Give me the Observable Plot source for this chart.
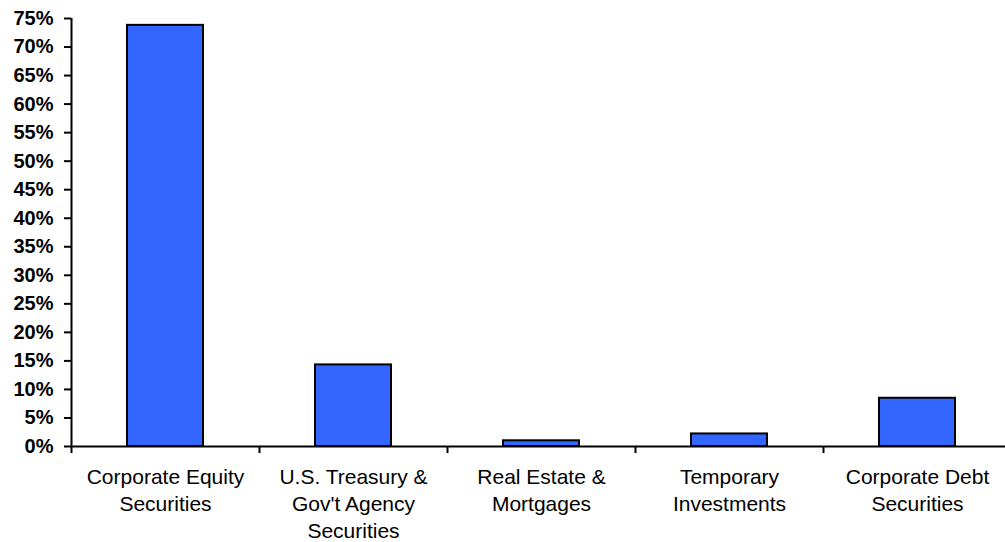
<!DOCTYPE html>
<html>
<head>
<meta charset="utf-8">
<script src="https://cdn.jsdelivr.net/npm/d3@7"></script>
<script src="https://cdn.jsdelivr.net/npm/@observablehq/plot@0.6"></script>
<style>
  html, body { margin: 0; padding: 0; background: #fff; }
  #chart svg { display: block; }
</style>
</head>
<body>
<div id="chart"></div>
<script>
const categories = [
  "Corporate Equity\nSecurities",
  "U.S. Treasury &\nGov't Agency\nSecurities",
  "Real Estate &\nMortgages",
  "Temporary\nInvestments",
  "Corporate Debt\nSecurities"
];
const values = [73.8, 14.3, 1.0, 2.2, 8.45];
const yTicks = [0, 5, 10, 15, 20, 25, 30, 35, 40, 45, 50, 55, 60, 65, 70, 75];

const data = categories.map((c, i) => ({idx: i, category: c, value: values[i]}));
const boundaries = d3.range(categories.length + 1);

const chart = Plot.plot({
  width: 1005,
  height: 542,
  marginTop: 18,
  marginBottom: 96,
  marginLeft: 71,
  marginRight: 0,
  style: {fontFamily: "'Liberation Sans', Arial, sans-serif", color: "#000", background: "#fff"},
  x: {domain: [0, categories.length], range: [71, 1011]},
  y: {domain: [0, 75]},
  marks: [
    Plot.rectY(data, {x1: "idx", x2: d => d.idx + 1, y1: 0, y2: "value", insetLeft: 56, insetRight: 56, fill: "#3366FF", stroke: "#000", strokeWidth: 2}),
    Plot.ruleX([0], {y1: 0, y2: 75, stroke: "#000", strokeWidth: 2}),
    Plot.ruleY([0], {x1: 0, x2: categories.length, stroke: "#000", strokeWidth: 2}),
    Plot.axisY({ticks: yTicks, tickFormat: d => d + "%", tickSize: 7, tickPadding: 11, strokeWidth: 2, fontSize: 20, fontWeight: "bold", label: null}),
    Plot.axisX({ticks: boundaries, tickFormat: () => "", tickSize: 7, strokeWidth: 2, label: null}),
    Plot.text(data, {x: d => d.idx + 0.5, y: 0, text: "category", lineAnchor: "top", dy: 19, fontSize: 21, lineHeight: 1.27, fill: "#000"})
  ]
});
document.getElementById("chart").appendChild(chart);
</script>
</body>
</html>
